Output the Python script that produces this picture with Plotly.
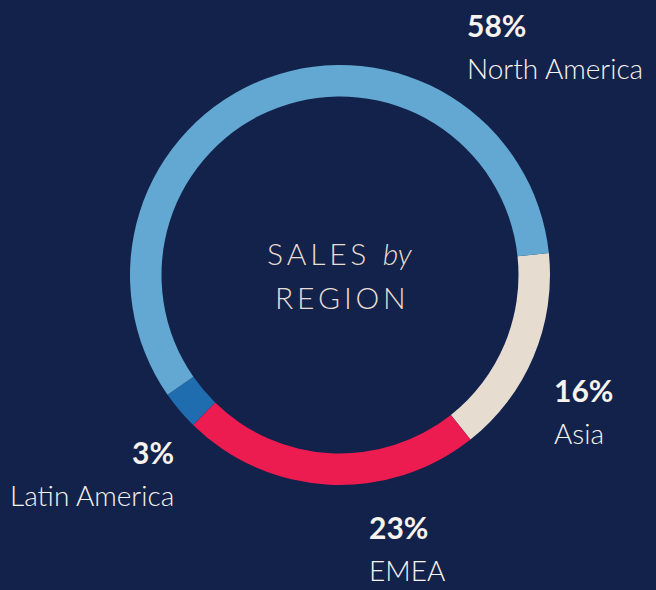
import plotly.graph_objects as go

regions = ["Asia", "EMEA", "Latin America", "North America"]
shares = [16, 23, 3, 58]
colors = ["#e6dcd0", "#ec1c51", "#1f6cae", "#62a8d2"]

BG = "#13224a"
W, H = 656, 590

fig = go.Figure()
fig.add_trace(go.Pie(
    labels=regions, values=shares, hole=0.85, sort=False,
    direction="clockwise", rotation=84,
    marker=dict(colors=colors, line=dict(width=0)),
    textinfo="none", hoverinfo="label+percent", showlegend=False,
    domain=dict(x=[130 / W, 550 / W], y=[(H - 485) / H, (H - 65) / H]),
))

# label positions (pixel anchor, alignment)
label_pos = {
    "North America": (465, 25, "left"),
    "Asia": (552, 390, "left"),
    "EMEA": (367, 527, "left"),
    "Latin America": (176, 452, "right"),
}
for r, v in zip(regions, shares):
    px, py, al = label_pos[r]
    fig.add_annotation(x=px / W, y=1 - py / H, xref="paper", yref="paper",
                       xanchor=al, yanchor="middle", showarrow=False,
                       text=f"<b>{v}%</b>",
                       font=dict(family="Lato", size=30, color="#f7f3ee"))
    fig.add_annotation(x=px / W, y=1 - (py + 43) / H, xref="paper", yref="paper",
                       xanchor=al, yanchor="middle", showarrow=False,
                       text=r,
                       font=dict(family="Lato Light, Lato", size=28, color="#f7f3ee"))

ts = "\u2009"
fig.add_annotation(x=340 / W, y=1 - 253 / H, xref="paper", yref="paper",
                   showarrow=False, xanchor="center", yanchor="middle",
                   text=ts.join("SALES") + "  <i>by</i>",
                   font=dict(family="Lato Light, Lato", size=30, color="#e8ddd1"))
fig.add_annotation(x=340 / W, y=1 - 297 / H, xref="paper", yref="paper",
                   showarrow=False, xanchor="center", yanchor="middle",
                   text=ts.join("REGION"),
                   font=dict(family="Lato Light, Lato", size=30, color="#e8ddd1"))

fig.update_layout(width=W, height=H, margin=dict(l=0, r=0, t=0, b=0),
                  paper_bgcolor=BG, plot_bgcolor=BG)
fig.write_html("out.html", config={"displayModeBar": False},
               post_script="document.body.style.margin='0';document.body.style.background='%s';" % BG)
